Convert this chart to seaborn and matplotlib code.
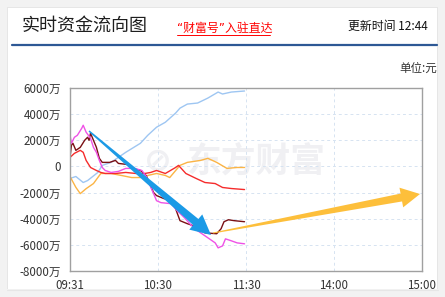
import numpy as np
import pandas as pd
import matplotlib
matplotlib.use("Agg")
import matplotlib.pyplot as plt
import seaborn as sns
from matplotlib.patches import Rectangle, Polygon
from matplotlib.lines import Line2D

# ---------------- data (minutes after 09:31, values in 万元) ----------------
blue_t = [0, 4, 9, 12, 19, 22, 28, 38, 48, 53, 59, 65, 72, 75, 80, 87, 94, 101, 104, 110, 119]
blue_v = [-920, -770, -1230, -1080, -460, 80, 310, 1080, 1770, 2380, 3000, 3380, 4080, 4460,
          4770, 4850, 5230, 5690, 5540, 5690, 5770]

orange_t = [0, 4, 7, 11, 16, 19, 21, 28, 35, 42, 48, 53, 59, 65, 68, 75, 80, 89, 94, 100, 107, 114, 119]
orange_v = [-770, -1600, -2080, -1700, -1310, -850, -540, -540, -690, -850, -850, -690, -540,
            -690, -850, 80, 310, 460, 620, 310, -150, -80, -80]

red_t = [0, 3, 7, 9, 11, 14, 18, 21, 24, 31, 38, 45, 51, 55, 59, 65, 72, 74, 79, 86, 92, 99, 104, 110, 119]
red_v = [690, 1000, 1230, 1080, 460, -80, -310, -460, -540, -540, -460, -540, -540, -460, -310,
         -540, -80, 80, -540, -920, -1230, -1310, -1610, -1690, -1770]

maroon_t = [0, 1, 2, 4, 7, 10, 12, 13, 14, 16, 18, 20, 22, 27, 31, 33, 39, 43, 48, 52, 55, 57, 59,
            64, 70, 73, 75, 80, 86, 92, 100, 103, 105, 108, 112, 119]
maroon_v = [700, 1620, 1770, 1230, 1460, 2000, 2230, 2000, 2540, 2000, 1460, 620, 310, 310, 460,
            230, 150, -150, -310, -700, -1500, -2000, -2230, -2460, -2620, -3540, -4150, -4380,
            -4610, -5080, -5150, -4770, -4230, -4080, -4150, -4230]

magenta_t = [0, 1, 3, 5, 8, 9, 11, 14, 16, 18, 20, 22, 24, 28, 33, 38, 44, 49, 52, 54, 57, 59, 62,
             69, 73, 78, 83, 87, 94, 99, 101, 104, 106, 110, 114, 119]
magenta_v = [2380, 1770, 2230, 2380, 2920, 3150, 2620, 2150, 1460, 1080, 460, -80, -310, -460,
             -380, -150, -150, -310, -770, -1310, -2080, -2620, -2770, -2850, -3380, -3920, -4540,
             -4920, -5460, -5850, -6230, -6080, -5540, -5690, -5850, -5920]

series_names = ["主力净流入", "超大单净流入", "大单净流入", "中单净流入", "小单净流入"]
colors = ["#9ec6f2", "#fbb445", "#f52c2c", "#7a1014", "#ef52e6"]

x_ticks = [0, 60, 120, 180, 240]
x_labels = ["09:31", "10:30", "11:30", "14:00", "15:00"]
y_ticks = [6000, 4000, 2000, 0, -2000, -4000, -6000, -8000]
y_labels = ["6000万", "4000万", "2000万", "0", "-2000万", "-4000万", "-6000万", "-8000万"]

frames = []
for name, t, v in zip(series_names,
                      [blue_t, orange_t, red_t, maroon_t, magenta_t],
                      [blue_v, orange_v, red_v, maroon_v, magenta_v]):
    frames.append(pd.DataFrame({"t": t, "v": v, "series": name}))
df = pd.concat(frames, ignore_index=True)

# ---------------- figure ----------------
sns.set_style("white")
plt.rcParams["font.family"] = ["Noto Sans CJK SC", "DejaVu Sans"]

W, H = 445, 297
fig = plt.figure(figsize=(W / 100, H / 100), dpi=100, facecolor="#f2f2f2")


def px(x, y):
    return x / W, 1 - y / H


# card
fig.patches.append(Rectangle(px(7, 290), 431 / W, 283 / H, transform=fig.transFigure,
                             facecolor="#e6e6e6", edgecolor="none", zorder=-2))
fig.patches.append(Rectangle(px(8, 289), 429 / W, 281 / H, transform=fig.transFigure,
                             facecolor="white", edgecolor="none", zorder=-1))

# header
fig.text(*px(22, 26), "实时资金流向图", fontsize=13, color="#1e1e1e", va="center", ha="left")
fig.text(*px(177, 28), "\u201c财富号\u201d入驻直达", fontsize=8.6, color="#ff0000", va="center", ha="left",
         family=["DejaVu Sans", "Noto Sans CJK SC"])
fig.add_artist(Line2D([177 / W, 270 / W], [1 - 35 / H, 1 - 35 / H], color="#ff0000", lw=0.7))
fig.text(*px(428, 26), "更新时间 12:44", fontsize=8.6, color="#111111", va="center", ha="right")
fig.add_artist(Line2D([12 / W, 437 / W], [1 - 45 / H, 1 - 45 / H], color="#2d5895", lw=1.6))
fig.text(*px(437, 68), "单位:元", fontsize=8.3, color="#333333", va="center", ha="right")

# axes
left, right, top, bottom = 70, 422, 88, 271
ax = fig.add_axes([left / W, 1 - bottom / H, (right - left) / W, (bottom - top) / H])
ax.set_facecolor("white")

# watermark
ax.text(0.53, 0.6, "东方财富", transform=ax.transAxes, fontsize=25, fontweight="bold",
        color="#f0f0f3", ha="center", va="center", style="italic", zorder=0)
ax.text(0.25, 0.6, "\u2298", transform=ax.transAxes, fontsize=24, fontweight="bold",
        color="#f0f0f3", ha="center", va="center", zorder=0, family=["DejaVu Sans"])

sns.lineplot(data=df, x="t", y="v", hue="series", palette=dict(zip(series_names, colors)),
             hue_order=series_names, legend=False, sort=False, linewidth=1.0, ax=ax, zorder=2)

ax.set_xlim(0, 240)
ax.set_ylim(-8000, 6000)
ax.set_xticks(x_ticks)
ax.set_xticklabels(x_labels)
ax.set_yticks(y_ticks)
ax.set_yticklabels(y_labels)
ax.set_xlabel("")
ax.set_ylabel("")
ax.tick_params(axis="both", length=0, labelsize=8.3, labelcolor="#333333")
ax.tick_params(axis="y", pad=6.5)
ax.tick_params(axis="x", pad=5.5)
for s in ax.spines.values():
    s.set_color("#a0a0a0")
    s.set_linewidth(1.0)
    s.set_visible(True)

for yv in y_ticks[1:-1]:
    ax.axhline(yv, color="#d6e3f1", lw=0.7, ls=(0, (3, 3)), zorder=1)
for xv in x_ticks[1:-1]:
    ax.axvline(xv, color="#d6e3f1", lw=0.7, ls=(0, (3, 3)), zorder=1)


# decorative arrows (annotation overlays, figure pixel space)
def tapered_arrow(start, tip, w0, w1, head_w, head_len, color):
    sx, sy = start
    tx, ty = tip
    d = np.array([tx - sx, ty - sy], dtype=float)
    L = np.hypot(*d)
    u = d / L
    n = np.array([-u[1], u[0]])
    base = np.array([tx, ty]) - u * head_len
    s = np.array([sx, sy])
    pts = [s + n * w0 / 2, base + n * w1 / 2, base + n * head_w / 2, np.array([tx, ty]),
           base - n * head_w / 2, base - n * w1 / 2, s - n * w0 / 2]
    pts = [(p[0] / W, 1 - p[1] / H) for p in pts]
    fig.add_artist(Polygon(pts, closed=True, transform=fig.transFigure, facecolor=color,
                           edgecolor="none", zorder=3))


tapered_arrow((89, 131), (211, 235), 1.5, 8, 20, 20, "#1b9ae6")
tapered_arrow((213, 233), (420, 194), 1.0, 8, 20, 19, "#fdbf3b")

# card bottom edge hides the lower part of the x labels
fig.add_artist(Rectangle((0, 0), 1, 8 / H, transform=fig.transFigure, facecolor="#f2f2f2",
                         edgecolor="none", zorder=5))
fig.add_artist(Line2D([7 / W, 438 / W], [1 - 289.5 / H, 1 - 289.5 / H], color="#e6e6e6", lw=0.8, zorder=6))

fig.savefig("out.png", dpi=100, facecolor=fig.get_facecolor())
